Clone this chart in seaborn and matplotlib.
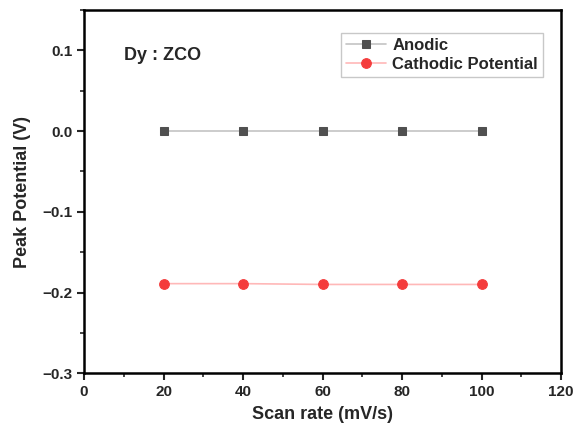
import matplotlib
matplotlib.use("Agg")
import matplotlib.pyplot as plt
from matplotlib.ticker import MultipleLocator
import pandas as pd
import seaborn as sns

# scan rates and peak potentials
scan_rate = [20, 40, 60, 80, 100]
anodic = [0.0, 0.0, 0.0, 0.0, 0.0]
cathodic = [-0.189, -0.189, -0.190, -0.190, -0.190]

df = pd.DataFrame({'scan': scan_rate, 'anodic': anodic, 'cathodic': cathodic})

sns.set_style('ticks')
plt.rcParams['font.family'] = ['Liberation Sans', 'DejaVu Sans']
plt.rcParams['font.weight'] = 'bold'

fig, ax = plt.subplots(figsize=(5.76, 4.34), dpi=100)
fig.subplots_adjust(left=0.146, right=0.974, top=0.977, bottom=0.14)

sns.lineplot(data=df, x='scan', y='anodic', ax=ax, color='#c4c4c4', lw=1.2,
             marker='s', markersize=6, markerfacecolor='#505050',
             markeredgecolor='#505050', label='Anodic')
sns.lineplot(data=df, x='scan', y='cathodic', ax=ax, color='#ffb8b8', lw=1.2,
             marker='o', markersize=7, markerfacecolor='#f43c3c',
             markeredgecolor='#f43c3c', label='Cathodic Potential')

ax.set_xlim(0, 120)
ax.set_ylim(-0.3, 0.15)
ax.xaxis.set_major_locator(MultipleLocator(20))
ax.xaxis.set_minor_locator(MultipleLocator(10))
ax.yaxis.set_major_locator(MultipleLocator(0.1))
ax.yaxis.set_minor_locator(MultipleLocator(0.05))
ax.tick_params(which='major', direction='out', length=5, width=1.5, labelsize=11)
ax.tick_params(which='minor', direction='out', length=3, width=1.2)
ax.set_yticks([-0.3, -0.2, -0.1, 0.0, 0.1])
ax.set_yticklabels(['\u22120.3', '\u22120.2', '\u22120.1', '0.0', '0.1'])

for s in ax.spines.values():
    s.set_linewidth(1.8)
    s.set_color('black')

ax.set_xlabel('Scan rate (mV/s)', fontsize=13, fontweight='bold', labelpad=5)
ax.set_ylabel('Peak Potential (V)', fontsize=13, fontweight='bold', labelpad=8)

ax.text(10, 0.088, 'Dy : ZCO', fontsize=13, fontweight='bold')

leg = ax.legend(loc='upper right', bbox_to_anchor=(0.962, 0.937), fontsize=12,
                frameon=True, fancybox=False, borderpad=0.3, labelspacing=0.25,
                handlelength=2.4, handletextpad=0.4, borderaxespad=0)
leg.get_frame().set_edgecolor('#bbbbbb')
leg.get_frame().set_linewidth(1.0)
for t in leg.get_texts():
    t.set_fontweight('bold')

fig.savefig('out.png', dpi=100)
